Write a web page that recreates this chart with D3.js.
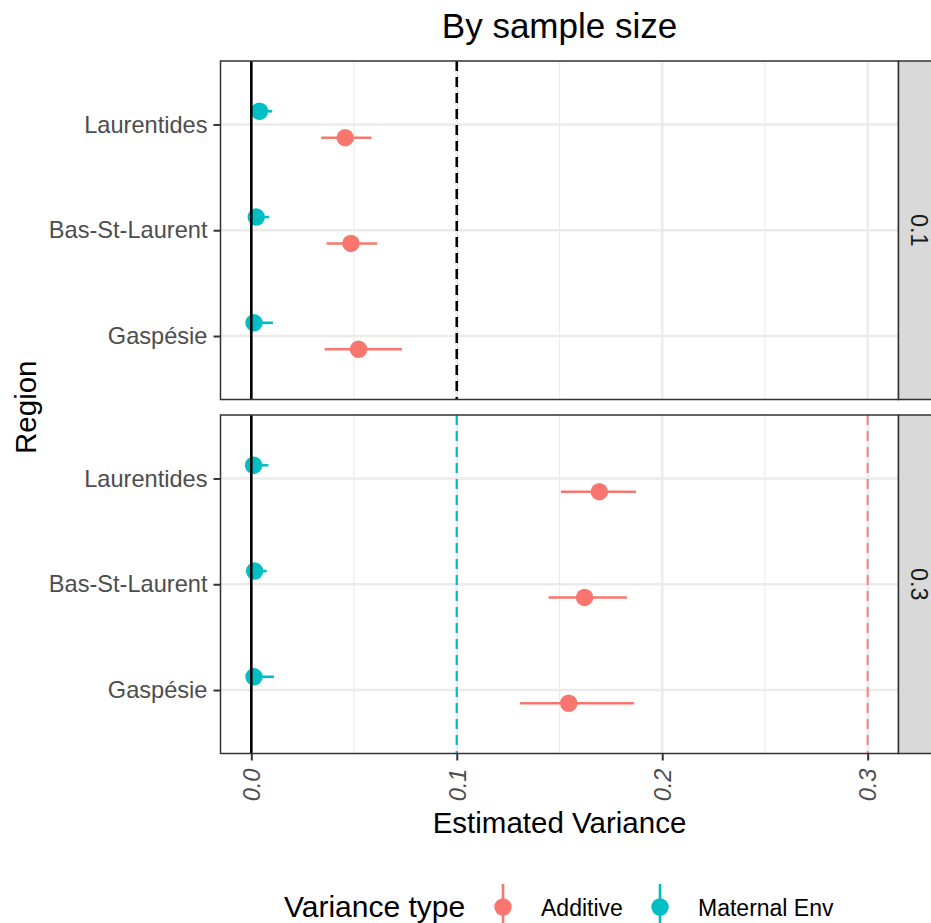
<!DOCTYPE html>
<html>
<head>
<meta charset="utf-8">
<script src="https://cdn.jsdelivr.net/npm/d3@7"></script>
<style>
  html, body { margin: 0; padding: 0; background: #fff; }
  svg { display: block; font-family: "Liberation Sans", Arial, sans-serif; }
</style>
</head>
<body>
<svg id="chart" width="931" height="923"></svg>
<script>
// ---- data ----
const regions = ["Gaspésie", "Bas-St-Laurent", "Laurentides"];   // bottom to top
const panels = ["0.1", "0.3"];
const varianceTypes = ["Additive", "Maternal Env"];
const typeColors = ["#F8766D", "#00BFC4"];

// estimates per panel, in the order of `regions`
const additiveEst = [[0.0522, 0.0485, 0.0457], [0.1545, 0.1622, 0.1694]];
const additiveLow = [[0.0357, 0.0366, 0.0340], [0.1308, 0.1447, 0.1507]];
const additiveHigh = [[0.0733, 0.0613, 0.0585], [0.1862, 0.1828, 0.1872]];
const maternalEst = [[0.0013, 0.0024, 0.0040], [0.0013, 0.0016, 0.0011]];
const maternalLow = [[0.0, 0.0, 0.0], [0.0, 0.0, 0.0]];
const maternalHigh = [[0.0105, 0.0086, 0.0102], [0.0110, 0.0075, 0.0083]];

// true-value reference lines per panel
const refValues = [[0.1], [0.1, 0.3]];
const refColors = [["#000000"], ["#00BFC4", "#F8766D"]];

const xTicks = [0.0, 0.1, 0.2, 0.3];
const xMinor = [0.05, 0.15, 0.25];

// ---- layout ----
const svg = d3.select("#chart");
const panelLeft = 220.5, panelRight = 898.5;
const panelTops = [61, 415], panelH = 338.5;
const stripW = 42;

const x = d3.scaleLinear().domain([-0.015, 0.315]).range([panelLeft, panelRight]);
const y = d3.scaleLinear().domain([0.4, 3.6]).range([panelH, 0]);
const dodge = { "Additive": -0.125, "Maternal Env": 0.125 };

const fmt = d3.format(".1f");

// title
svg.append("text")
  .attr("x", (panelLeft + panelRight) / 2).attr("y", 38)
  .attr("text-anchor", "middle").attr("font-size", 35).attr("fill", "#000")
  .text("By sample size");

panels.forEach((p, pi) => {
  const g = svg.append("g").attr("transform", `translate(0,${panelTops[pi]})`);

  // panel background
  g.append("rect").attr("x", panelLeft).attr("y", 0)
    .attr("width", panelRight - panelLeft).attr("height", panelH).attr("fill", "#fff");

  // grid
  g.selectAll(".minor").data(xMinor).join("line")
    .attr("x1", d => x(d)).attr("x2", d => x(d)).attr("y1", 0).attr("y2", panelH)
    .attr("stroke", "#EBEBEB").attr("stroke-width", 1.2);
  g.selectAll(".majx").data(xTicks).join("line")
    .attr("x1", d => x(d)).attr("x2", d => x(d)).attr("y1", 0).attr("y2", panelH)
    .attr("stroke", "#EBEBEB").attr("stroke-width", 2.4);
  g.selectAll(".majy").data(regions).join("line")
    .attr("x1", panelLeft).attr("x2", panelRight)
    .attr("y1", (d, i) => y(i + 1)).attr("y2", (d, i) => y(i + 1))
    .attr("stroke", "#EBEBEB").attr("stroke-width", 2.4);

  // point ranges
  const rows = [];
  regions.forEach((r, ri) => {
    rows.push({ type: "Additive", pos: ri + 1, est: additiveEst[pi][ri], lo: additiveLow[pi][ri], hi: additiveHigh[pi][ri] });
    rows.push({ type: "Maternal Env", pos: ri + 1, est: maternalEst[pi][ri], lo: maternalLow[pi][ri], hi: maternalHigh[pi][ri] });
  });
  const color = t => typeColors[varianceTypes.indexOf(t)];
  g.selectAll(".bar").data(rows).join("line")
    .attr("x1", d => x(d.lo)).attr("x2", d => x(d.hi))
    .attr("y1", d => y(d.pos + dodge[d.type])).attr("y2", d => y(d.pos + dodge[d.type]))
    .attr("stroke", d => color(d.type)).attr("stroke-width", 2.6);
  g.selectAll(".pt").data(rows).join("circle")
    .attr("cx", d => x(d.est)).attr("cy", d => y(d.pos + dodge[d.type]))
    .attr("r", 8.7).attr("fill", d => color(d.type));

  // zero line
  g.append("line").attr("x1", x(0)).attr("x2", x(0)).attr("y1", 0).attr("y2", panelH)
    .attr("stroke", "#000").attr("stroke-width", 2.6);

  // reference lines
  refValues[pi].forEach((v, vi) => {
    const c = refColors[pi][vi];
    g.append("line").attr("x1", x(v)).attr("x2", x(v)).attr("y1", 0).attr("y2", panelH)
      .attr("stroke", c).attr("stroke-width", c === "#000000" ? 2.6 : 2.2)
      .attr("stroke-opacity", c === "#F8766D" ? 0.8 : 1)
      .attr("stroke-dasharray", "10,6");
  });

  // panel border
  g.append("rect").attr("x", panelLeft).attr("y", 0)
    .attr("width", panelRight - panelLeft).attr("height", panelH)
    .attr("fill", "none").attr("stroke", "#333333").attr("stroke-width", 1.5);

  // strip
  g.append("rect").attr("x", panelRight).attr("y", 0)
    .attr("width", stripW).attr("height", panelH)
    .attr("fill", "#D9D9D9").attr("stroke", "#333333").attr("stroke-width", 1.5);
  g.append("text")
    .attr("transform", `translate(${panelRight + 21},${panelH / 2}) rotate(90)`)
    .attr("text-anchor", "middle").attr("dy", "0.35em")
    .attr("font-size", 23.5).attr("fill", "#1A1A1A").text(p);

  // y axis
  const yAxis = d3.axisLeft(y).tickValues([1, 2, 3])
    .tickFormat(d => regions[d - 1]).tickSize(7).tickPadding(6);
  const ya = g.append("g").attr("transform", `translate(${panelLeft},0)`).call(yAxis);
  ya.select(".domain").remove();
  ya.selectAll(".tick line").attr("stroke", "#333333").attr("stroke-width", 2);
  ya.selectAll(".tick text").attr("font-size", 23.6).attr("fill", "#4D4D4D")
    .attr("font-family", "Liberation Sans, Arial, sans-serif");
});

// x axis under the bottom panel
const xAxis = d3.axisBottom(x).tickValues(xTicks).tickFormat(fmt).tickSize(7).tickPadding(6);
const xa = svg.append("g").attr("transform", `translate(0,${panelTops[1] + panelH})`).call(xAxis);
xa.select(".domain").remove();
xa.selectAll(".tick line").attr("stroke", "#333333").attr("stroke-width", 2);
xa.selectAll(".tick text")
  .attr("font-size", 23.6).attr("fill", "#4D4D4D").attr("font-style", "italic")
  .attr("font-family", "Liberation Sans, Arial, sans-serif")
  .attr("text-anchor", "end").attr("x", 0).attr("y", 0).attr("dy", "0.35em")
  .attr("transform", "translate(0,15) rotate(-90)");

// axis titles
svg.append("text")
  .attr("x", (panelLeft + panelRight) / 2).attr("y", 833)
  .attr("text-anchor", "middle").attr("font-size", 29.5).attr("fill", "#000")
  .text("Estimated Variance");
svg.append("text")
  .attr("transform", `translate(36,${(panelTops[0] + panelTops[1] + panelH) / 2}) rotate(-90)`)
  .attr("text-anchor", "middle").attr("font-size", 29.5).attr("fill", "#000")
  .text("Region");

// legend
const legend = svg.append("g");
legend.append("text").attr("x", 284).attr("y", 917)
  .attr("font-size", 30).attr("fill", "#000").text("Variance type");
const keyX = [503, 660];
varianceTypes.forEach((t, i) => {
  legend.append("line").attr("x1", keyX[i]).attr("x2", keyX[i])
    .attr("y1", 884).attr("y2", 930)
    .attr("stroke", typeColors[i]).attr("stroke-width", 2.6);
  legend.append("circle").attr("cx", keyX[i]).attr("cy", 907)
    .attr("r", 8.7).attr("fill", typeColors[i]);
  legend.append("text").attr("x", keyX[i] + 38).attr("y", 916)
    .attr("font-size", 23).attr("fill", "#000").text(t);
});
</script>
</body>
</html>
